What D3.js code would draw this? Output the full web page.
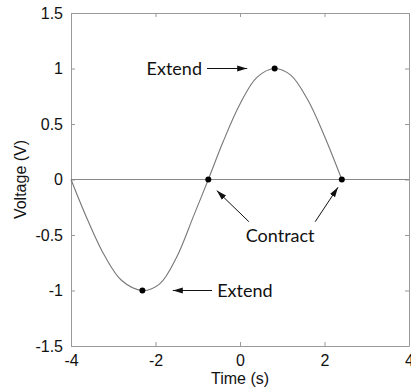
<!DOCTYPE html>
<html>
<head>
<meta charset="utf-8">
<script src="https://cdn.jsdelivr.net/npm/d3@7"></script>
<style>
  body { margin: 0; background: #fff; }
  svg { display: block; }
</style>
</head>
<body>
<svg></svg>
<script>
// Curve points
const timeS = [-4.0, -3.6, -3.2, -2.8, -2.31, -1.9, -1.5, -1.1, -0.75, -0.4, 0.0, 0.4, 0.82, 1.2, 1.6, 2.0, 2.41];
const voltage = [0, -0.37, -0.69, -0.91, -1.0, -0.94, -0.70, -0.33, 0, 0.34, 0.68, 0.92, 1.0, 0.94, 0.72, 0.39, 0];

// Marked points
const markX = [-2.31, -0.75, 0.82, 2.41];
const markY = [-1, 0, 1, 0];

const xTicks = [-4, -2, 0, 2, 4];
const yTicks = [-1.5, -1, -0.5, 0, 0.5, 1, 1.5];

// Annotations (data coordinates)
const labels = [
  { text: "Extend", x: -0.9, y: 1.0, anchor: "end" },
  { text: "Extend", x: -0.54, y: -1.0, anchor: "start" },
  { text: "Contract", x: 0.95, y: -0.51, anchor: "middle" }
];
const arrows = [
  { x1: -0.78, y1: 1.0, x2: 0.17, y2: 1.0 },
  { x1: -0.66, y1: -1.0, x2: -1.59, y2: -1.0 },
  { x1: 0.21, y1: -0.38, x2: -0.55, y2: -0.10 },
  { x1: 1.78, y1: -0.38, x2: 2.32, y2: -0.07 }
];

const margin = { top: 13, right: 2, bottom: 43, left: 71 },
  width = 411 - margin.left - margin.right,
  height = 389 - margin.top - margin.bottom;

const svg = d3.select("svg")
  .attr("width", 411)
  .attr("height", 389);

const defs = svg.append("defs");
defs.append("marker")
  .attr("id", "head")
  .attr("viewBox", "0 0 10 10")
  .attr("refX", 10).attr("refY", 5)
  .attr("markerWidth", 10).attr("markerHeight", 10)
  .attr("markerUnits", "userSpaceOnUse")
  .attr("orient", "auto")
  .append("path")
  .attr("d", "M0,2 L10,5 L0,8 Z")
  .attr("fill", "#111");

const g = svg.append("g")
  .attr("transform", `translate(${margin.left},${margin.top})`);

const x = d3.scaleLinear().domain([-4, 4]).range([0, width]);
const y = d3.scaleLinear().domain([-1.5, 1.5]).range([height, 0]);

const axisColor = "#999";
const tickFont = "'Liberation Sans', Arial, sans-serif";
const plain = d => String(d); // hyphen minus, like the original

// Axes, MATLAB style: ticks inside, box all round
const styleAxis = sel => {
  sel.select(".domain").attr("stroke", axisColor);
  sel.selectAll(".tick line").attr("stroke", axisColor);
  sel.selectAll(".tick text").attr("fill", "#111")
    .style("font-family", tickFont).style("font-size", "16px");
};

g.append("g")
  .attr("transform", `translate(0,${height})`)
  .call(d3.axisBottom(x).tickValues(xTicks).tickSizeInner(-4).tickSizeOuter(0).tickPadding(9).tickFormat(plain))
  .call(styleAxis);

g.append("g")
  .call(d3.axisLeft(y).tickValues(yTicks).tickSizeInner(-4).tickSizeOuter(0).tickPadding(8).tickFormat(plain))
  .call(styleAxis);

g.append("g")
  .call(d3.axisTop(x).tickValues(xTicks).tickSizeInner(-4).tickSizeOuter(0).tickFormat(""))
  .call(styleAxis);

g.append("g")
  .attr("transform", `translate(${width},0)`)
  .call(d3.axisRight(y).tickValues(yTicks).tickSizeInner(-4).tickSizeOuter(0).tickFormat(""))
  .call(styleAxis);

// Zero line
g.append("line")
  .attr("x1", x(-4)).attr("x2", x(4))
  .attr("y1", y(0)).attr("y2", y(0))
  .attr("stroke", "#888")
  .attr("stroke-width", 1);

// Curve
const pts = timeS.map((t, i) => [t, voltage[i]]);
g.append("path")
  .datum(pts)
  .attr("fill", "none")
  .attr("stroke", "#777")
  .attr("stroke-width", 1.1)
  .attr("d", d3.line().x(d => x(d[0])).y(d => y(d[1])).curve(d3.curveCatmullRom));

// Dots
g.selectAll(".dot")
  .data(markX.map((v, i) => [v, markY[i]]))
  .enter()
  .append("circle")
  .attr("cx", d => x(d[0]))
  .attr("cy", d => y(d[1]))
  .attr("r", 3)
  .attr("fill", "#000");

// Arrows
g.selectAll(".arrow")
  .data(arrows)
  .enter()
  .append("line")
  .attr("x1", d => x(d.x1)).attr("y1", d => y(d.y1))
  .attr("x2", d => x(d.x2)).attr("y2", d => y(d.y2))
  .attr("stroke", "#111")
  .attr("stroke-width", 1)
  .attr("marker-end", "url(#head)");

// Labels
g.selectAll(".label")
  .data(labels)
  .enter()
  .append("text")
  .attr("x", d => x(d.x))
  .attr("y", d => y(d.y))
  .attr("dy", "0.35em")
  .attr("text-anchor", d => d.anchor)
  .style("font-family", "Lato, 'Open Sans', sans-serif")
  .style("font-size", "18px")
  .attr("fill", "#111")
  .text(d => d.text);

// Axis titles
svg.append("text")
  .attr("x", margin.left + x(0))
  .attr("y", 384)
  .attr("text-anchor", "middle")
  .style("font-family", tickFont)
  .style("font-size", "16px")
  .attr("fill", "#111")
  .text("Time (s)");

svg.append("text")
  .attr("transform", `translate(26,${margin.top + y(0)}) rotate(-90)`)
  .attr("text-anchor", "middle")
  .style("font-family", tickFont)
  .style("font-size", "16px")
  .attr("fill", "#111")
  .text("Voltage (V)");
</script>
</body>
</html>
